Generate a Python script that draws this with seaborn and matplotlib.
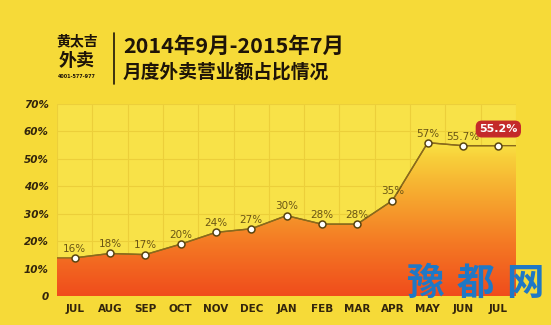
import numpy as np
import pandas as pd
import matplotlib
matplotlib.use("Agg")
import matplotlib.pyplot as plt
import seaborn as sns
from matplotlib.colors import LinearSegmentedColormap
from matplotlib.patches import Polygon

months = ["JUL", "AUG", "SEP", "OCT", "NOV", "DEC", "JAN", "FEB", "MAR", "APR", "MAY", "JUN", "JUL"]
values = [13.9, 15.5, 15.1, 18.9, 23.2, 24.5, 29.3, 26.2, 26.2, 34.8, 55.9, 54.8, 54.8]
point_labels = ["16%", "18%", "17%", "20%", "24%", "27%", "30%", "28%", "28%", "35%", "57%", "55.7%", "55.2%"]
ytick_values = [0, 10, 20, 30, 40, 50, 60, 70]
ytick_labels = ["0", "10%", "20%", "30%", "40%", "50%", "60%", "70%"]
title_line1 = "2014年9月-2015年7月"
title_line2 = "月度外卖营业额占比情况"

sns.set_style("white")
plt.rcParams["font.family"] = ["Noto Sans CJK SC", "DejaVu Sans"]

BG = "#f6da38"
AX_BG = "#f8e248"
GRID = "#eccf3a"
LINE = "#8a6a1c"
DARK = "#33250c"

fig = plt.figure(figsize=(5.51, 3.25), dpi=100, facecolor=BG)
ax = fig.add_axes([57 / 551, 29 / 325, 459 / 551, 192 / 325])
ax.set_facecolor(AX_BG)

df = pd.DataFrame({"x": np.arange(len(values)), "v": values})
x0, x1 = -0.5, len(values) - 0.5
ax.set_xlim(x0, x1)
ax.set_ylim(0, 70)

# gradient fill under the line
xs = np.r_[x0, df["x"].values, x1]
ys = np.r_[values[0], values, values[-1]]
cmap = LinearSegmentedColormap.from_list(
    "g", [(0.0, "#f04c1c"), (0.28, "#f47a24"), (0.5, "#f6a42e"), (0.72, "#f8d03a"), (0.8, "#f9e445"), (1.0, "#f9e848")])
grad = np.linspace(0, 1, 256).reshape(-1, 1)
im = ax.imshow(grad, extent=[x0, x1, 0, 70], origin="lower", aspect="auto", cmap=cmap, zorder=1)
poly = Polygon(np.c_[np.r_[x0, xs, x1], np.r_[0, ys, 0]], closed=True, facecolor="none", edgecolor="none")
ax.add_patch(poly)
im.set_clip_path(poly)

# grid
for xv in np.arange(x0, x1 + 0.01, 1.0):
    ax.axvline(xv, color=GRID, lw=0.8, zorder=0.5)
for yv in ytick_values[1:]:
    ax.axhline(yv, color=GRID, lw=0.8, zorder=0.5)

# line with flat extension to edges
ax.plot(xs, ys, color=LINE, lw=1.0, zorder=3)
sns.lineplot(data=df, x="x", y="v", ax=ax, color=LINE, lw=1.0, marker="o",
             markersize=5, markerfacecolor="white", markeredgecolor="#5a4510",
             markeredgewidth=1.1, zorder=4)

for i, (v, lab) in enumerate(zip(values, point_labels)):
    if i == len(values) - 1:
        ax.annotate(lab, (i, v), xytext=(0, 12), textcoords="offset points",
                    ha="center", va="center", fontsize=8, color="white",
                    fontweight="bold", family="DejaVu Sans", zorder=6,
                    bbox=dict(boxstyle="round,pad=0.25,rounding_size=0.5", fc="#c42a2a", ec="#c42a2a"))
    else:
        ax.annotate(lab, (i, v), xytext=(0, 3), textcoords="offset points",
                    ha="center", va="bottom", fontsize=7.5, color="#6a5514",
                    family="DejaVu Sans", zorder=5)

ax.set_xticks(df["x"])
ax.set_xticklabels(months, fontsize=7.5, fontweight="bold", color=DARK, family="DejaVu Sans")
ax.set_yticks(ytick_values)
ax.set_yticklabels(ytick_labels, fontsize=7.5, fontweight="bold", color=DARK, family="DejaVu Sans", style="italic")
ax.tick_params(length=0, pad=6)
ax.set_xlabel("")
ax.set_ylabel("")
for s in ax.spines.values():
    s.set_visible(False)

# header
fig.text(123 / 551, 1 - 46 / 325, title_line1, fontsize=15.5, fontweight="bold", color="#1e1408", va="center", ha="left")
fig.text(123 / 551, 1 - 72 / 325, title_line2, fontsize=13.5, fontweight="bold", color="#1e1408", va="center", ha="left")
fig.text(77 / 551, 1 - 41 / 325, "黄太吉", fontsize=10, fontweight="bold", color="#1e1408", va="center", ha="center")
fig.text(77 / 551, 1 - 60 / 325, "外卖", fontsize=13, fontweight="bold", color="#1e1408", va="center", ha="center", style="italic")
fig.text(77 / 551, 1 - 76 / 325, "4001-577-977", fontsize=3.5, fontweight="bold", color="#1e1408", va="center", ha="center", family="DejaVu Sans")
fig.add_artist(plt.Line2D([114 / 551, 114 / 551], [1 - 33 / 325, 1 - 84 / 325], color="#1e1408", lw=1.2))

# watermark
for k, ch in enumerate("豫都网"):
    fig.text((425 + k * 50) / 551, 1 - 283 / 325, ch, fontsize=27, fontweight="bold",
             color="#1f78c6", va="center", ha="center", zorder=10)

fig.savefig("out.png", dpi=100, facecolor=BG)
